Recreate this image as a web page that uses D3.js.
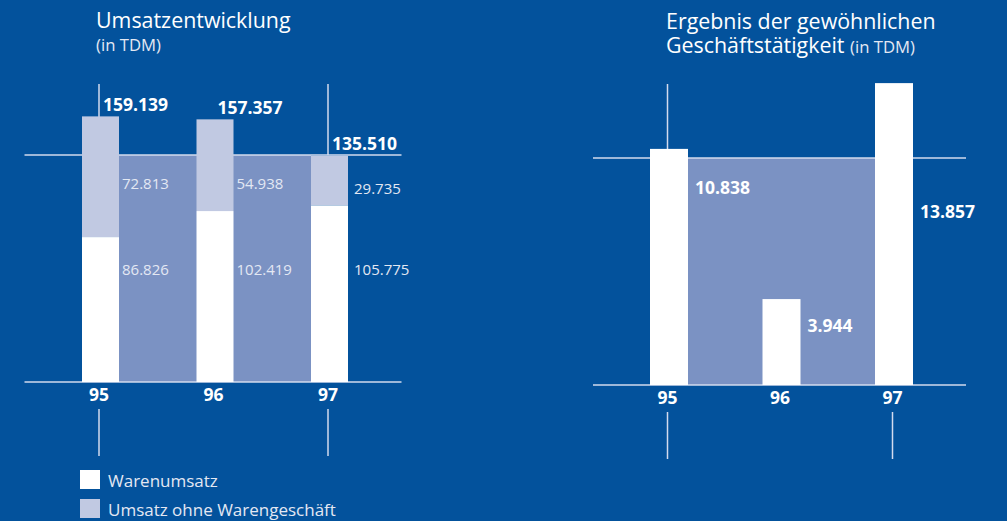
<!DOCTYPE html>
<html>
<head>
<meta charset="utf-8">
<script src="https://cdn.jsdelivr.net/npm/d3@7"></script>
<style>
  html, body { margin: 0; padding: 0; background: #03529c; }
  svg { display: block; font-family: "Open Sans", sans-serif; }
</style>
</head>
<body>
<svg id="chart" width="1007" height="521"></svg>
<script>
// data
const years = ['95', '96', '97'];
const warenumsatz = [86.826, 102.419, 105.775];
const ohneWaren = [72.813, 54.938, 29.735];
const umsatzTotal = [159.139, 157.357, 135.510];
const ergebnis = [10.838, 3.944, 13.857];
const legendLabels = ['Warenumsatz', 'Umsatz ohne Warengeschäft'];

const fmt = v => d3.format(',.3f')(v).replace(',', '.');

const colors = {
    white: '#ffffff',
    light: '#c1c9e2',
    band: '#7b92c3',
    line: '#d3dbee',
    softText: '#e3e8f3'
};

const svg = d3.select('#chart');

function frame(g, x, y, barW) {
    let x0 = x.range()[0] - 76, x1 = x.range()[1] + 72;
    let base = y(0), top = base - 227;
    // band between first and last bar
    g.append('rect')
        .attr('x', x(years[0]) + barW / 2).attr('y', top)
        .attr('width', x(years[2]) - x(years[0]) - barW).attr('height', base - top)
        .attr('fill', colors.band);
    g.append('line').attr('x1', x0).attr('x2', x1).attr('y1', top).attr('y2', top)
        .attr('stroke', colors.line).attr('stroke-width', 1.5);
    g.append('line').attr('x1', x0).attr('x2', x1).attr('y1', base).attr('y2', base)
        .attr('stroke', colors.line).attr('stroke-width', 1.5);
    [years[0], years[2]].forEach(function (yr) {
        g.append('line').attr('x1', x(yr) - 1.5).attr('x2', x(yr) - 1.5)
            .attr('y1', 84).attr('y2', top)
            .attr('stroke', colors.line).attr('stroke-width', 1.5);
        g.append('line').attr('x1', x(yr) - 1.5).attr('x2', x(yr) - 1.5)
            .attr('y1', base + 27).attr('y2', base + 74)
            .attr('stroke', colors.line).attr('stroke-width', 1.5);
    });
    g.selectAll('.yr').data(years).enter().append('text')
        .attr('x', d => x(d) - 1.5).attr('y', base + 19)
        .attr('text-anchor', 'middle').attr('fill', colors.white)
        .attr('font-weight', 700).attr('font-size', 17.5)
        .text(d => d);
    return top;
}

// ---- left chart: Umsatzentwicklung
let xL = d3.scalePoint().domain(years).range([100.5, 329.5]);
let yL = d3.scaleLinear().domain([0, 136]).range([382, 155]);
let bwL = 37;
let gL = svg.append('g');
let topL = frame(gL, xL, yL, bwL);

gL.selectAll('.light').data(years).enter().append('rect')
    .attr('x', d => xL(d) - bwL / 2).attr('width', bwL)
    .attr('y', (d, i) => yL(umsatzTotal[i]))
    .attr('height', (d, i) => yL(warenumsatz[i]) - yL(umsatzTotal[i]))
    .attr('fill', colors.light);
gL.selectAll('.white').data(years).enter().append('rect')
    .attr('x', d => xL(d) - bwL / 2).attr('width', bwL)
    .attr('y', (d, i) => yL(warenumsatz[i]))
    .attr('height', (d, i) => yL(0) - yL(warenumsatz[i]))
    .attr('fill', colors.white);

gL.selectAll('.total').data(years).enter().append('text')
    .attr('x', d => xL(d) + bwL / 2 - 16)
    .attr('y', (d, i) => Math.min(yL(umsatzTotal[i]), topL) - 5)
    .attr('fill', colors.white).attr('font-weight', 700).attr('font-size', 17.5)
    .text((d, i) => fmt(umsatzTotal[i]));
gL.selectAll('.lightLbl').data(years).enter().append('text')
    .attr('x', (d, i) => xL(d) + bwL / 2 + (i == 2 ? 6 : 3)).attr('y', (d, i) => i == 2 ? 194 : 189)
    .attr('fill', colors.softText).attr('font-size', 15)
    .text((d, i) => fmt(ohneWaren[i]));
gL.selectAll('.whiteLbl').data(years).enter().append('text')
    .attr('x', (d, i) => xL(d) + bwL / 2 + (i == 2 ? 6 : 3)).attr('y', 275)
    .attr('fill', colors.softText).attr('font-size', 15)
    .text((d, i) => fmt(warenumsatz[i]));

gL.append('text').attr('x', 96).attr('y', 28).attr('fill', colors.white)
    .attr('font-size', 21.4).text('Umsatzentwicklung');
gL.append('text').attr('x', 96).attr('y', 51).attr('fill', colors.softText)
    .attr('font-size', 16.7).text('(in TDM)');

// legend
let legend = svg.append('g');
legend.selectAll('rect').data(legendLabels).enter().append('rect')
    .attr('x', 80).attr('y', (d, i) => 470 + i * 29)
    .attr('width', 20).attr('height', 19)
    .attr('fill', (d, i) => i == 0 ? colors.white : colors.light);
legend.selectAll('text').data(legendLabels).enter().append('text')
    .attr('x', 108).attr('y', (d, i) => 487 + i * 29)
    .attr('fill', colors.softText).attr('font-size', 17)
    .text(d => d);

// ---- right chart: Ergebnis
let xR = d3.scalePoint().domain(years).range([669, 894]);
let yR = d3.scaleLinear().domain([0, 14]).range([385, 80]);
let bwR = 38;
let gR = svg.append('g');
frame(gR, xR, yR, bwR);

gR.selectAll('.bar').data(years).enter().append('rect')
    .attr('x', d => xR(d) - bwR / 2).attr('width', bwR)
    .attr('y', (d, i) => yR(ergebnis[i]))
    .attr('height', (d, i) => yR(0) - yR(ergebnis[i]))
    .attr('fill', colors.white);
gR.selectAll('.lbl').data(years).enter().append('text')
    .attr('x', d => xR(d) + bwR / 2 + 7)
    .attr('y', (d, i) => [194, 332, 218][i])
    .attr('fill', colors.white).attr('font-weight', 700).attr('font-size', 17.5)
    .text((d, i) => fmt(ergebnis[i]));

// two-line title in one text element
let title = gR.append('text').attr('x', 666).attr('y', 29).attr('fill', colors.white)
    .attr('font-size', 21.4);
title.append('tspan').attr('x', 666).text('Ergebnis der gewöhnlichen');
title.append('tspan').attr('x', 666).attr('dy', 24).text('Geschäftstätigkeit ');
title.append('tspan').attr('font-size', 16.7).attr('fill', colors.softText).text('(in TDM)');
</script>
</body>
</html>
